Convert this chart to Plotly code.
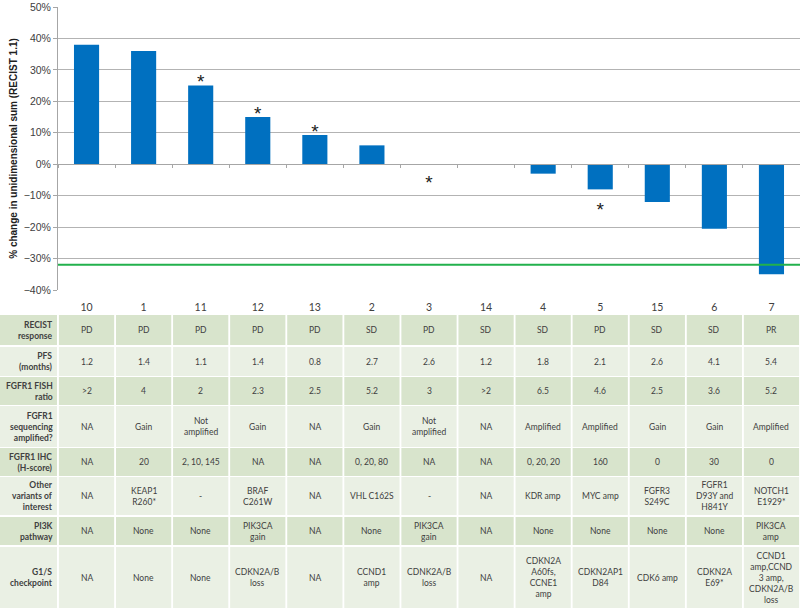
import plotly.graph_objects as go

# patient order along the waterfall
patients = ["10", "1", "11", "12", "13", "2", "3", "14", "4", "5", "15", "6", "7"]
pct_change = [38, 36, 25, 15, 9.3, 6, 0, 0, -3, -8, -12, -20.5, -35]

# asterisk markers (patient, anchor y in %)
star_patients = ["11", "12", "13", "3", "5"]
star_y = [25.6, 15.6, 9.9, -6.3, -15.1]

threshold = -32  # green reference line

row_labels = ["RECIST<br>response", "PFS<br>(months)", "FGFR1 FISH<br>ratio",
              "FGFR1<br>sequencing<br>amplified?", "FGFR1 IHC<br>(H-score)",
              "Other<br>variants of<br>interest", "PI3K<br>pathway", "G1/S<br>checkpoint"]

recist = ["PD", "PD", "PD", "PD", "PD", "SD", "PD", "SD", "SD", "PD", "SD", "SD", "PR"]
pfs = ["1.2", "1.4", "1.1", "1.4", "0.8", "2.7", "2.6", "1.2", "1.8", "2.1", "2.6", "4.1", "5.4"]
fish = [">2", "4", "2", "2.3", "2.5", "5.2", "3", ">2", "6.5", "4.6", "2.5", "3.6", "5.2"]
seq = ["NA", "Gain", "Not<br>amplified", "Gain", "NA", "Gain", "Not<br>amplified", "NA",
       "Amplified", "Amplified", "Gain", "Gain", "Amplified"]
ihc = ["NA", "20", "2, 10, 145", "NA", "NA", "0, 20, 80", "NA", "NA", "0, 20, 20",
       "160", "0", "30", "0"]
other = ["NA", "KEAP1<br>R260*", "-", "BRAF<br>C261W", "NA", "VHL C162S", "-", "NA",
         "KDR amp", "MYC amp", "FGFR3<br>S249C", "FGFR1<br>D93Y and<br>H841Y", "NOTCH1<br>E1929*"]
pi3k = ["NA", "None", "None", "PIK3CA<br>gain", "NA", "None", "PIK3CA<br>gain", "NA",
        "None", "None", "None", "None", "PIK3CA<br>amp"]
g1s = ["NA", "None", "None", "CDKN2A/B<br>loss", "NA", "CCND1<br>amp", "CDNK2A/B<br>loss", "NA",
       "CDKN2A<br>A60fs,<br>CCNE1<br>amp", "CDKN2AP1<br>D84", "CDK6 amp", "CDKN2A<br>E69*",
       "CCND1<br>amp,CCND<br>3 amp,<br>CDKN2A/B<br>loss"]

table_rows = [recist, pfs, fish, seq, ihc, other, pi3k, g1s]

# layout geometry (pixels)
W, H = 800, 611
ML, MT, MB = 58, 7, 0
PLOT_BOTTOM = 290
row_edges = [(315, 345), (347, 376), (377, 405), (406, 447),
             (448, 476), (477, 515), (517, 545), (547, 608)]
dark = "#d8e4cc"
light = "#eaf0e4"
txt = "#404040"


def py(p):
    # pixel row -> paper y
    return (H - MB - p) / (H - MT - MB)


def px(p):
    # pixel column -> paper x
    return (p - ML) / (W - ML)


xs = list(range(len(patients)))
star_x = [patients.index(p) for p in star_patients]

fig = go.Figure()

fig.add_trace(go.Bar(x=xs, y=pct_change, width=0.44,
                     marker=dict(color="#0070c0", line=dict(width=0)),
                     showlegend=False, hoverinfo="skip"))

fig.add_trace(go.Scatter(x=[-0.5, len(patients) - 0.5], y=[threshold, threshold],
                         mode="lines", line=dict(color="#22b14c", width=2),
                         xaxis="x2", showlegend=False, hoverinfo="skip"))

fig.add_trace(go.Scatter(x=star_x, y=star_y, mode="text", text=["*"] * len(star_x),
                         textfont=dict(family="Arial, Liberation Sans", size=19, color="#202020"),
                         textposition="middle center", showlegend=False, hoverinfo="skip"))

shapes = []
annotations = []
gx = 0.016
for r, (vals, (top, bot)) in enumerate(zip(table_rows, row_edges)):
    color = dark if r % 2 == 0 else light
    y0, y1 = py(bot), py(top)
    ymid = (y0 + y1) / 2
    # header cell
    shapes.append(dict(type="rect", xref="paper", yref="paper",
                       x0=px(0), x1=px(57), y0=y0, y1=y1,
                       fillcolor=color, line=dict(width=0), layer="below"))
    annotations.append(dict(xref="paper", yref="paper", x=px(55), y=ymid,
                            text="<b>" + row_labels[r] + "</b>", showarrow=False,
                            xanchor="right", yanchor="middle", align="right",
                            font=dict(family="Lato", size=8.5, color=txt)))
    for i, v in enumerate(vals):
        shapes.append(dict(type="rect", xref="x", yref="paper",
                           x0=i - 0.5 + gx, x1=i + 0.5 - gx, y0=y0, y1=y1,
                           fillcolor=color, line=dict(width=0), layer="below"))
        annotations.append(dict(xref="x", yref="paper", x=i, y=ymid, text=v,
                                showarrow=False, xanchor="center", yanchor="middle",
                                align="center",
                                font=dict(family="Lato", size=8.5, color=txt)))

ydom0 = py(PLOT_BOTTOM)
# y range -40..50 over domain [ydom0, 1]
zero_pos = ydom0 + (1 - ydom0) * (0 - (-40)) / 90

fig.update_layout(
    width=W, height=H,
    margin=dict(l=ML, r=0, t=MT, b=MB, autoexpand=False),
    plot_bgcolor="white", paper_bgcolor="white",
    bargap=0.56,
    shapes=shapes, annotations=annotations,
    xaxis=dict(range=[-0.5, len(patients) - 0.5], tickvals=xs, ticktext=patients,
               showgrid=False, zeroline=False, showline=False, ticks="",
               ticklabelstandoff=9, automargin=False,
               tickfont=dict(family="Lato", size=10.5, color=txt),
               anchor="y"),
    xaxis2=dict(range=[-0.5, len(patients) - 0.5], overlaying="x", anchor="free",
                position=zero_pos, side="bottom", automargin=False,
                tickvals=[i + 0.5 for i in range(-1, len(patients))],
                ticks="outside", ticklen=3, tickcolor="#a6a6a6", tickwidth=1,
                showticklabels=False, showgrid=False, zeroline=False,
                showline=True, linecolor="#a6a6a6", linewidth=1),
    yaxis=dict(domain=[ydom0, 1], range=[-40, 50], dtick=10, automargin=False,
               ticksuffix="%", showgrid=True, gridcolor="#b3b3b3", gridwidth=1,
               zeroline=False, showline=True, linecolor="#a6a6a6", linewidth=1,
               ticks="outside", ticklen=4, tickcolor="#a6a6a6",
               ticklabeloverflow="allow",
               tickfont=dict(family="Arial, Liberation Sans", size=10.5, color=txt),
               title=dict(text="<b>% change in unidimensional sum (RECIST 1.1)</b>",
                          font=dict(family="Arial, Liberation Sans", size=10, color="#202020"),
                          standoff=4)),
)

# the page body has a default 8px margin; remove it so the figure fills the window
fig.write_html("out.html", config={"displayModeBar": False},
               post_script="document.body.style.margin='0px';")
